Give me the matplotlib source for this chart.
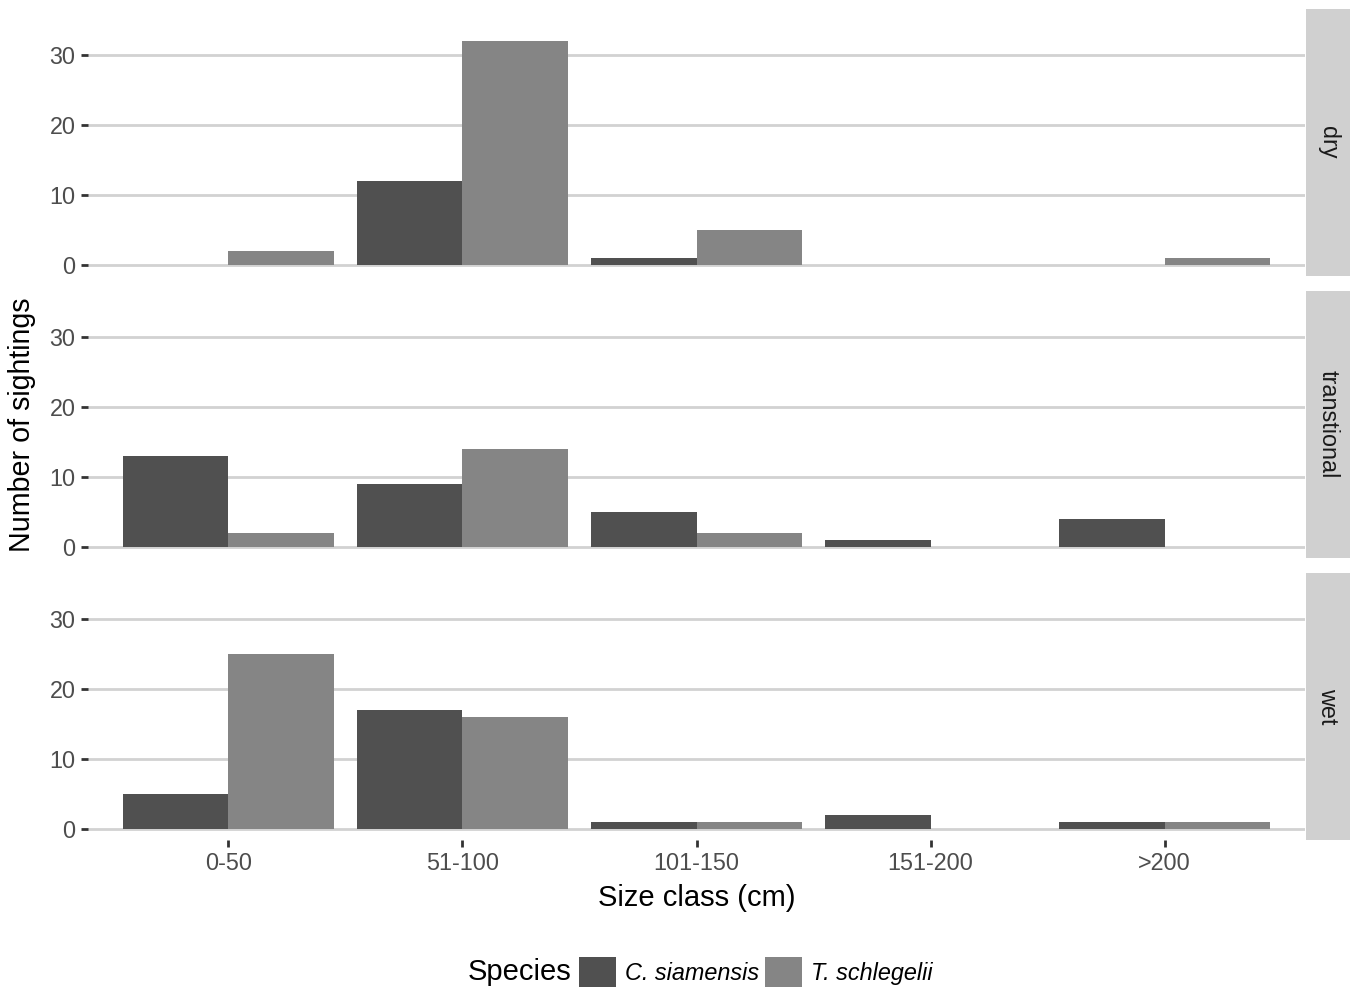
import matplotlib.pyplot as plt
import numpy as np
from matplotlib.patches import Patch

plt.rcParams['font.family'] = ['Liberation Sans', 'DejaVu Sans']

size_classes = ['0-50', '51-100', '101-150', '151-200', '>200']
seasons = ['dry', 'transtional', 'wet']
species = ['C. siamensis', 'T. schlegelii']

siamensis = {
    'dry': [0, 12, 1, 0, 0],
    'transtional': [13, 9, 5, 1, 4],
    'wet': [5, 17, 1, 2, 1],
}
schlegelii = {
    'dry': [2, 32, 5, 0, 1],
    'transtional': [2, 14, 2, 0, 0],
    'wet': [25, 16, 1, 0, 1],
}
y_ticks = [0, 10, 20, 30]

dark = '#505050'
light = '#858585'
grid_col = '#d2d2d2'

W, H = 1362, 992
fig = plt.figure(figsize=(W / 100, H / 100), dpi=100)

# panel positions in pixels (left, top, right, bottom)
left, right = 88, 1305
tops = [9, 291, 573]
ph = 267
x = np.arange(1, len(size_classes) + 1)
bw = 0.45

for i, s in enumerate(seasons):
    top = tops[i]
    ax = fig.add_axes([left / W, 1 - (top + ph) / H, (right - left) / W, ph / H])
    ax.set_facecolor('white')
    for yt in y_ticks:
        ax.axhline(yt, color=grid_col, lw=2, zorder=0)
    ax.bar(x - bw / 2, siamensis[s], width=bw, color=dark, zorder=2)
    ax.bar(x + bw / 2, schlegelii[s], width=bw, color=light, zorder=2)
    ax.set_xlim(0.4, 5.6)
    ax.set_ylim(-1.6, 36.6)
    ax.set_yticks(y_ticks)
    ax.tick_params(axis='y', length=5, width=2, color='#333333', labelsize=16.8,
                   labelcolor='#4d4d4d', pad=4)
    for sp in ax.spines.values():
        sp.set_visible(False)
    if i < 2:
        ax.set_xticks([])
    else:
        ax.set_xticks(x)
        ax.set_xticklabels(size_classes)
        ax.tick_params(axis='x', length=5, width=2, color='#333333', labelsize=16.8,
                       labelcolor='#4d4d4d', pad=4)
        ax.set_xlabel('Size class (cm)', fontsize=21, labelpad=6)

    # facet strip
    sax = fig.add_axes([1306 / W, 1 - (top + ph) / H, 44 / W, ph / H])
    sax.set_facecolor('#d0d0d0')
    sax.set_xticks([])
    sax.set_yticks([])
    for sp in sax.spines.values():
        sp.set_visible(False)
    sax.text(0.5, 0.5, s, rotation=-90, ha='center', va='center',
             fontsize=16.8, color='#1a1a1a', transform=sax.transAxes)

fig.text(22 / W, 1 - 425 / H, 'Number of sightings', rotation=90,
         ha='center', va='center', fontsize=20.6)

fig.text(571 / W, 1 - 972 / H, 'Species', ha='right', va='center', fontsize=21)
handles = [Patch(facecolor=dark, label=species[0]),
           Patch(facecolor=light, label=species[1])]
fig.legend(handles=handles, loc='center left', bbox_to_anchor=(579 / W, 1 - 972 / H),
           ncol=2, frameon=False, prop={'style': 'italic', 'size': 16.8},
           handlelength=1.6, handleheight=1.6, handletextpad=0.38,
           columnspacing=0.25, borderaxespad=0, borderpad=0)

fig.savefig('out.png', dpi=100)
